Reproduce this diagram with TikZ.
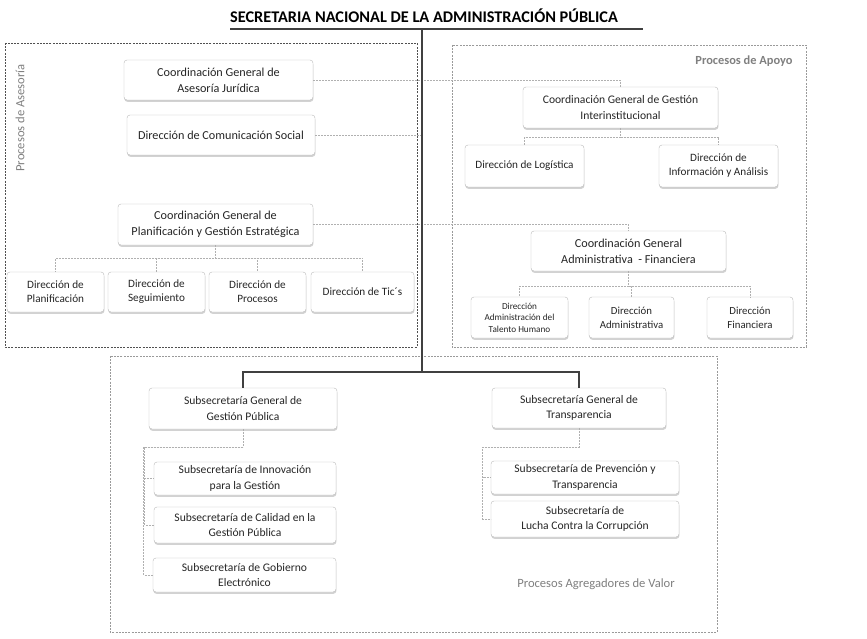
\documentclass[tikz,border=0pt]{standalone}
\usepackage{fontspec}
\setmainfont{Carlito}
\usetikzlibrary{calc,positioning,shadows}
\definecolor{orgline}{HTML}{404040}
\definecolor{orgdash}{HTML}{B0B0B0}
\definecolor{orgframe}{HTML}{505050}
\definecolor{orgframelight}{HTML}{9A9A9A}
\definecolor{orgtext}{HTML}{262626}
\definecolor{orglabel}{HTML}{808080}

\begin{document}
\begin{tikzpicture}[
    x=1pt,y=-1pt,
    box/.style={draw=gray!55,rounded corners=3pt,fill=white,align=center,
      text=orgtext,font=\fontsize{12.2}{16}\selectfont,inner sep=1pt,
      drop shadow={shadow xshift=0.4pt,shadow yshift=-1.8pt,opacity=0.35}},
    dims/.style 2 args={minimum width=#1pt,minimum height=#2pt},
    sub/.style={font=\fontsize{11.6}{15.5}\selectfont},
    small/.style={font=\fontsize{11.2}{14}\selectfont},
    smaller/.style={font=\fontsize{10.8}{14}\selectfont},
    tiny/.style={font=\fontsize{9.2}{11.5}\selectfont},
    trunk/.style={draw=orgline,line width=2.6pt},
    link/.style={draw=orgdash,line width=0.8pt,dash pattern=on 2pt off 1pt},
    frame/.style={draw=#1,line width=0.8pt,dash pattern=on 2pt off 1.2pt},
    region/.style={text=orglabel,font=\fontsize{12.6}{15}\selectfont}
  ]
    \path[use as bounding box,fill=white] (0,0) rectangle (867,639);

    % title and main line
    \node[font=\fontsize{16.3}{19}\bfseries\selectfont,text=black] (title) at (424,16)
      {SECRETARIA NACIONAL DE LA ADMINISTRACIÓN PÚBLICA};
    \coordinate (ul) at (230,29);
    \coordinate (ur) at (643,29);
    \coordinate (top) at (422,29);
    \coordinate (hub) at (422,372);

    % process areas
    \draw[frame=orgframe] (5,43) rectangle (417,347);
    \draw[frame=orgframelight] (452,45) rectangle (806,347);
    \draw[frame=orgframelight] (110,356) rectangle (717,632);
    \node[region,rotate=90] (lasesoria) at (20,118) {Procesos de Asesoría};
    \node[region,font=\fontsize{12.4}{15}\bfseries\selectfont] (lapoyo) at (744,61) {Procesos de Apoyo};
    \node[region] (lvalor) at (596,584) {Procesos Agregadores de Valor};

    % asesoria
    \node[box,dims={189}{40}] (aj) at (218.5,80) {Coordinación General de\\Asesoría Jurídica};
    \node[box,dims={188}{40}] (cs) at (221,135) {Dirección de Comunicación Social};
    \node[box,dims={195}{41}] (cp) at (215.5,224.5) {Coordinación General de\\Planificación y Gestión Estratégica};
    \node[box,small,dims={97}{40}] (dp) at (55.5,292) {Dirección de\\Planificación};
    \node[box,small,dims={97}{40}] (ds) at (156.5,292) {Dirección de\\Seguimiento};
    \node[box,small,dims={97}{40}] (dpr) at (257.5,292) {Dirección de\\Procesos};
    \node[box,small,dims={103}{40}] (dt) at (362.5,292) {Dirección de Tic´s};

    % apoyo
    \node[box,sub,dims={195}{41}] (gi) at (620.5,107.5) {Coordinación General de Gestión\\Interinstitucional};
    \node[box,small,dims={119}{42}] (dl) at (524.5,166) {Dirección de Logística};
    \node[box,small,dims={119}{42}] (dia) at (718.5,166) {Dirección de\\Información y Análisis};
    \node[box,dims={195}{40}] (af) at (628.5,251) {Coordinación General\\Administrativa \ - Financiera};
    \node[box,tiny,dims={97}{41}] (dth) at (519.5,317.5) {Dirección\\Administración del\\Talento Humano};
    \node[box,smaller,dims={85}{41}] (dad) at (631.5,317.5) {Dirección\\Administrativa};
    \node[box,smaller,dims={86}{41}] (dfi) at (750,317.5) {Dirección\\Financiera};

    % agregadores de valor
    \node[box,sub,dims={188}{41}] (sgp) at (243,408.5) {Subsecretaría General de\\Gestión Pública};
    \node[box,sub,dims={182}{33}] (sin) at (245,478.5) {Subsecretaría de Innovación\\para la Gestión};
    \node[box,sub,dims={182}{36}] (sca) at (245,525) {Subsecretaría de Calidad en la\\Gestión Pública};
    \node[box,sub,dims={183}{34}] (sge) at (244.5,575) {Subsecretaría de Gobierno\\Electrónico};
    \node[box,sub,dims={174}{40}] (sgt) at (579,408) {Subsecretaría General de\\Transparencia};
    \node[box,sub,dims={188}{33}] (spr) at (585,477.5) {Subsecretaría de Prevención y\\Transparencia};
    \node[box,sub,dims={188}{36}] (slu) at (585,519) {Subsecretaría de\\Lucha Contra la Corrupción};

    % dotted links
    \draw[link] (aj.east) -| (gi.north);
    \draw[link] (cs.east) -- (cs.east -| top);
    \draw[link] (cp.east) -| (af.north);
    \foreach \c in {dp,ds,dpr,dt}
      \draw[link] (cp.south) -- ++(0,13) -| (\c.north);
    \foreach \c in {dl,dia}
      \draw[link] (gi.south) -- ++(0,9) -| (\c.north);
    \foreach \c in {dth,dad,dfi}
      \draw[link] (af.south) -- ++(0,15) -| (\c.north);
    \foreach \c in {sin,sca,sge}
      \draw[link] (sgp.south) -- ++(0,18) -| ([xshift=-9pt]\c.west) -- (\c.west);
    \foreach \c in {spr,slu}
      \draw[link] (sgt.south) -- ++(0,19) -| ([xshift=-8pt]\c.west) -- (\c.west);

    % hierarchy
    \draw[trunk] (ul) -- (ur);
    \draw[trunk] (top) -- (hub);
    \draw[trunk] (sgp.north) |- (hub) -| (sgt.north);
  \end{tikzpicture}
\end{document}
